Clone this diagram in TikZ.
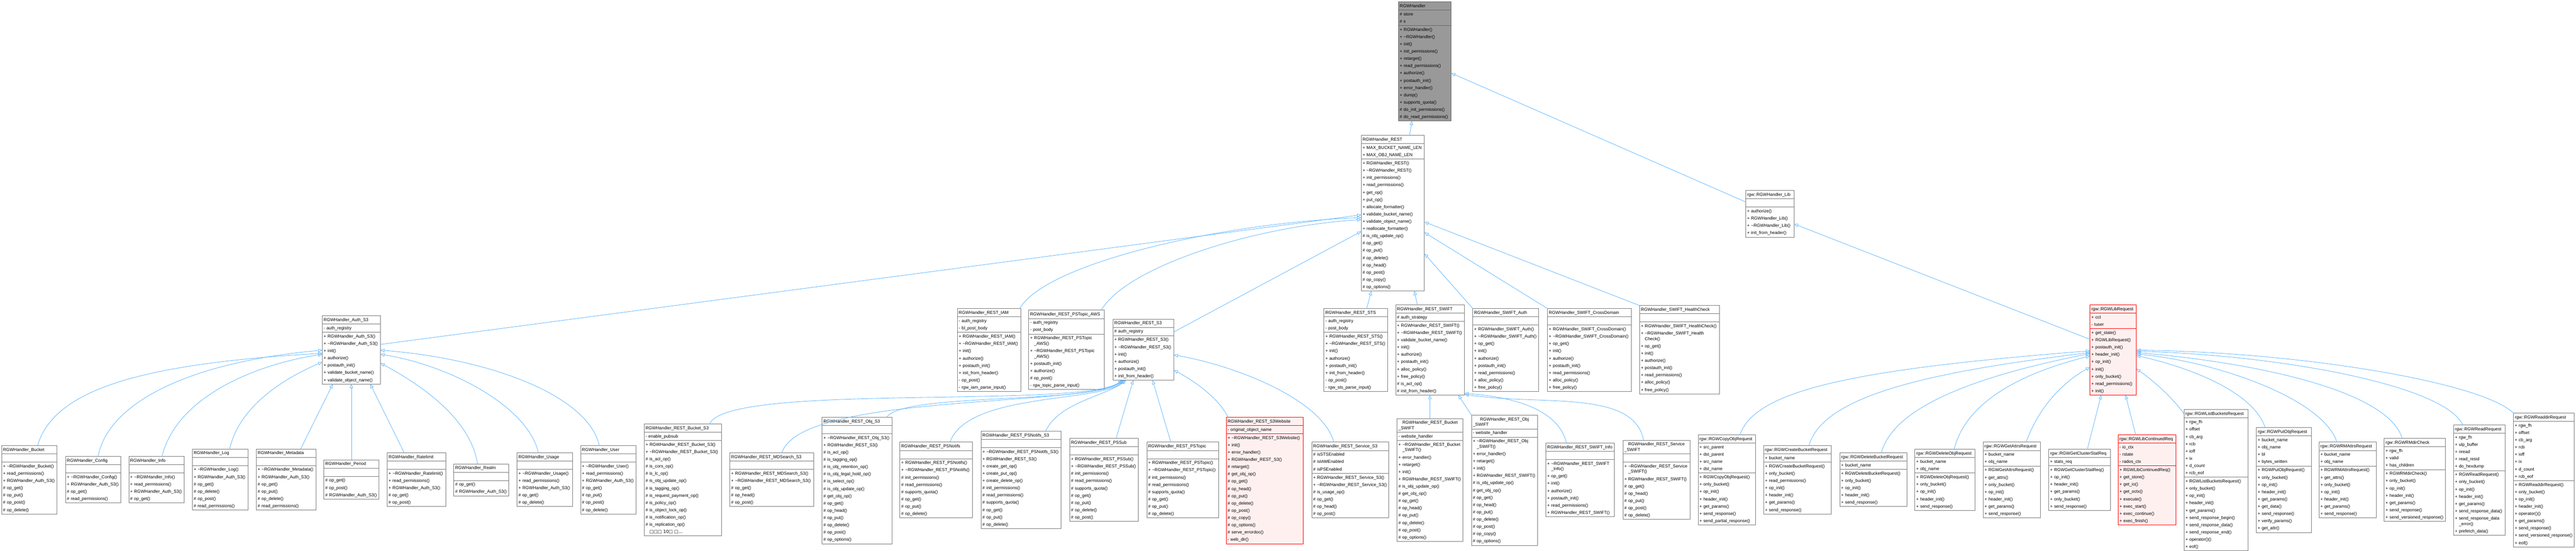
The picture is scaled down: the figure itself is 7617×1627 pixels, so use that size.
\documentclass[tikz,border=0pt]{standalone}
\usepackage{fontspec}
\setmainfont{Liberation Sans}
\newfontfamily\tofufont{DejaVu Sans}
\usetikzlibrary{shapes.multipart,arrows.meta,calc}
\definecolor{edgeblue}{HTML}{63B8FF}
\definecolor{boxline}{HTML}{7A7A7A}
\definecolor{hgray}{HTML}{999999}
\definecolor{hgrayline}{HTML}{666666}
\definecolor{redfill}{HTML}{FFF0F0}
\newcommand\tld{\textasciitilde}
\newcommand\rs{\rule[-3.2pt]{0pt}{10.75pt}}
\newcommand\ind{\hphantom{+~}}
\newcommand\cl{\\[-2.75pt]\ind}
\newcommand\hl{\\[-2.75pt]}
\tikzset{
  uml/.style={rectangle split, rectangle split parts=3, draw=boxline, line width=0.7pt,
    fill=white, inner xsep=2pt, inner ysep=0.375pt, outer sep=0pt, anchor=north west,
    align=left, font={\fontsize{6.4}{10.75}\selectfont\hyphenpenalty=10000 \exhyphenpenalty=10000 }},
  redbox/.style={draw=red, fill=redfill},
  graybox/.style={draw=hgrayline, fill=hgray},
  inh/.style={draw=edgeblue, line width=0.65pt, -{Triangle[open,length=6pt,width=5pt]}}
}
\newcommand\umlc[8][]{\node[uml,#1,text width={#5*0.5pt-4pt}] (#2) at (#3,#4) {\centering\rs #6\rs\nodepart{two}\rs #7\rs\nodepart{three}\rs #8\rs};}
\catcode`\_=12
\begin{document}
\begin{tikzpicture}[x=0.5pt,y=-0.5pt]
\useasboundingbox (0,0) rectangle (7617,1627);
% top
\umlc[graybox]{H}{4135}{5}{156}{RGWHandler}{\#~store\\\#~s}{+~RGWHandler()\\+~\tld RGWHandler()\\+~init()\\+~init_permissions()\\+~retarget()\\+~read_permissions()\\+~authorize()\\+~postauth_init()\\+~error_handler()\\+~dump()\\+~supports_quota()\\\#~do_init_permissions()\\\#~do_read_permissions()}
\umlc{REST}{4025}{400}{187}{RGWHandler_REST}{+~MAX_BUCKET_NAME_LEN\\+~MAX_OBJ_NAME_LEN}{+~RGWHandler_REST()\\+~\tld RGWHandler_REST()\\+~init_permissions()\\+~read_permissions()\\+~get_op()\\+~put_op()\\+~allocate_formatter()\\+~validate_bucket_name()\\+~validate_object_name()\\+~reallocate_formatter()\\\#~is_obj_update_op()\\\#~op_get()\\\#~op_put()\\\#~op_delete()\\\#~op_head()\\\#~op_post()\\\#~op_copy()\\\#~op_options()}
\umlc{Lib}{5162}{563}{143}{rgw::RGWHandler_Lib}{}{+~authorize()\\+~RGWHandler_Lib()\\+~\tld RGWHandler_Lib()\\+~init_from_header()}
% middle row
\umlc{AuthS3}{953}{933}{172}{RGWHandler_Auth_S3}{-~auth_registry}{+~RGWHandler_Auth_S3()\\+~\tld RGWHandler_Auth_S3()\\+~init()\\+~authorize()\\+~postauth_init()\\+~validate_bucket_name()\\+~validate_object_name()}
\umlc{IAM}{2831}{912}{187}{RGWHandler_REST_IAM}{-~auth_registry\\-~bl_post_body}{+~RGWHandler_REST_IAM()\\+~\tld RGWHandler_REST_IAM()\\+~init()\\+~authorize()\\+~postauth_init()\\+~init_from_header()\\-~op_post()\\-~rgw_iam_parse_input()}
\umlc{PSTopicAWS}{3042}{917}{224}{RGWHandler_REST_PSTopic_AWS}{-~auth_registry\\-~post_body}{+~RGWHandler_REST_PSTopic\cl _AWS()\\+~\tld RGWHandler_REST_PSTopic\cl _AWS()\\+~postauth_init()\\+~authorize()\\\#~op_post()\\-~rgw_topic_parse_input()}
\umlc{RESTS3}{3291}{943}{180}{RGWHandler_REST_S3}{\#~auth_registry}{+~RGWHandler_REST_S3()\\+~\tld RGWHandler_REST_S3()\\+~init()\\+~authorize()\\+~postauth_init()\\+~init_from_header()}
\umlc{STS}{3915}{912}{188}{RGWHandler_REST_STS}{-~auth_registry\\-~post_body}{+~RGWHandler_REST_STS()\\+~\tld RGWHandler_REST_STS()\\+~init()\\+~authorize()\\+~postauth_init()\\+~init_from_header()\\-~op_post()\\-~rgw_sts_parse_input()}
\umlc{SWIFT}{4127}{901}{203}{RGWHandler_REST_SWIFT}{\#~auth_strategy}{+~RGWHandler_REST_SWIFT()\\+~\tld RGWHandler_REST_SWIFT()\\+~validate_bucket_name()\\+~init()\\+~authorize()\\+~postauth_init()\\+~alloc_policy()\\+~free_policy()\\\#~is_acl_op()\\\#~init_from_header()}
\umlc{SWIFTAuth}{4355}{912}{195}{RGWHandler_SWIFT_Auth}{}{+~RGWHandler_SWIFT_Auth()\\+~\tld RGWHandler_SWIFT_Auth()\\+~op_get()\\+~init()\\+~authorize()\\+~postauth_init()\\+~read_permissions()\\+~alloc_policy()\\+~free_policy()}
\umlc{CrossDomain}{4576}{912}{247}{RGWHandler_SWIFT_CrossDomain}{}{+~RGWHandler_SWIFT_CrossDomain()\\+~\tld RGWHandler_SWIFT_CrossDomain()\\+~op_get()\\+~init()\\+~authorize()\\+~postauth_init()\\+~read_permissions()\\+~alloc_policy()\\+~free_policy()}
\umlc{HealthCheck}{4848}{903}{236}{RGWHandler_SWIFT_HealthCheck}{}{+~RGWHandler_SWIFT_HealthCheck()\\+~\tld RGWHandler_SWIFT_Health\cl Check()\\+~op_get()\\+~init()\\+~authorize()\\+~postauth_init()\\+~read_permissions()\\+~alloc_policy()\\+~free_policy()}
\umlc[redbox]{LibReq}{6180}{901}{137}{rgw::RGWLibRequest}{+~cct\\-~tuser}{+~get_state()\\+~RGWLibRequest()\\+~postauth_init()\\+~header_init()\\+~op_init()\\+~init()\\+~only_bucket()\\+~read_permissions()\\+~init()}
% bottom row
\umlc{Bucket}{5}{1317}{164}{RGWHandler_Bucket}{}{+~\tld RGWHandler_Bucket()\\+~read_permissions()\\+~RGWHandler_Auth_S3()\\\#~op_get()\\\#~op_put()\\\#~op_post()\\\#~op_delete()}
\umlc{Config}{194}{1349}{163}{RGWHandler_Config}{}{+~\tld RGWHandler_Config()\\+~RGWHandler_Auth_S3()\\\#~op_get()\\\#~read_permissions()}
\umlc{Info}{381}{1349}{164}{RGWHandler_Info}{}{+~\tld RGWHandler_Info()\\+~read_permissions()\\+~RGWHandler_Auth_S3()\\\#~op_get()}
\umlc{Log}{569}{1327}{164}{RGWHandler_Log}{}{+~\tld RGWHandler_Log()\\+~RGWHandler_Auth_S3()\\\#~op_get()\\\#~op_delete()\\\#~op_post()\\\#~read_permissions()}
\umlc{Metadata}{758}{1327}{176}{RGWHandler_Metadata}{}{+~\tld RGWHandler_Metadata()\\+~RGWHandler_Auth_S3()\\\#~op_get()\\\#~op_put()\\\#~op_delete()\\\#~read_permissions()}
\umlc{Period}{958}{1359}{163}{RGWHandler_Period}{}{\#~op_get()\\\#~op_post()\\\#~RGWHandler_Auth_S3()}
\umlc{Ratelimit}{1145}{1338}{173}{RGWHandler_Ratelimit}{}{+~\tld RGWHandler_Ratelimit()\\+~read_permissions()\\+~RGWHandler_Auth_S3()\\\#~op_get()\\\#~op_post()}
\umlc{Realm}{1342}{1371}{163}{RGWHandler_Realm}{}{\#~op_get()\\\#~RGWHandler_Auth_S3()}
\umlc{Usage}{1529}{1338}{164}{RGWHandler_Usage}{}{+~\tld RGWHandler_Usage()\\+~read_permissions()\\+~RGWHandler_Auth_S3()\\\#~op_get()\\\#~op_delete()}
\umlc{User}{1717}{1317}{164}{RGWHandler_User}{}{+~\tld RGWHandler_User()\\+~read_permissions()\\+~RGWHandler_Auth_S3()\\\#~op_get()\\\#~op_put()\\\#~op_post()\\\#~op_delete()}
\umlc{BucketS3}{1905}{1253}{228}{RGWHandler_REST_Bucket_S3}{-~enable_pubsub}{+~RGWHandler_REST_Bucket_S3()\\+~\tld RGWHandler_REST_Bucket_S3()\\\#~is_acl_op()\\\#~is_cors_op()\\\#~is_lc_op()\\\#~is_obj_update_op()\\\#~is_tagging_op()\\\#~is_request_payment_op()\\\#~is_policy_op()\\\#~is_object_lock_op()\\\#~is_notification_op()\\\#~is_replication_op()\\\ind{\tofufont □□□ 10□ □...}}
\umlc{MDSearch}{2158}{1338}{248}{RGWHandler_REST_MDSearch_S3}{}{+~RGWHandler_REST_MDSearch_S3()\\+~\tld RGWHandler_REST_MDSearch_S3()\\\#~op_get()\\\#~op_head()\\\#~op_post()}
\umlc{ObjS3}{2431}{1233}{206}{RGWHandler_REST_Obj_S3}{}{+~\tld RGWHandler_REST_Obj_S3()\\+~RGWHandler_REST_S3()\\\#~is_acl_op()\\\#~is_tagging_op()\\\#~is_obj_retention_op()\\\#~is_obj_legal_hold_op()\\\#~is_select_op()\\\#~is_obj_update_op()\\\#~get_obj_op()\\\#~op_get()\\\#~op_head()\\\#~op_put()\\\#~op_delete()\\\#~op_post()\\\#~op_options()}
\umlc{PSNotifs}{2661}{1307}{215}{RGWHandler_REST_PSNotifs}{}{+~RGWHandler_REST_PSNotifs()\\+~\tld RGWHandler_REST_PSNotifs()\\\#~init_permissions()\\\#~read_permissions()\\\#~supports_quota()\\\#~op_get()\\\#~op_put()\\\#~op_delete()}
\umlc{PSNotifsS3}{2901}{1274}{237}{RGWHandler_REST_PSNotifs_S3}{}{+~\tld RGWHandler_REST_PSNotifs_S3()\\+~RGWHandler_REST_S3()\\+~create_get_op()\\+~create_put_op()\\+~create_delete_op()\\\#~init_permissions()\\\#~read_permissions()\\\#~supports_quota()\\\#~op_get()\\\#~op_put()\\\#~op_delete()}
\umlc{PSSub}{3163}{1296}{203}{RGWHandler_REST_PSSub}{}{+~RGWHandler_REST_PSSub()\\+~\tld RGWHandler_REST_PSSub()\\\#~init_permissions()\\\#~read_permissions()\\\#~supports_quota()\\\#~op_get()\\\#~op_put()\\\#~op_delete()\\\#~op_post()}
\umlc{PSTopic}{3391}{1307}{212}{RGWHandler_REST_PSTopic}{}{+~RGWHandler_REST_PSTopic()\\+~\tld RGWHandler_REST_PSTopic()\\\#~init_permissions()\\\#~read_permissions()\\\#~supports_quota()\\\#~op_get()\\\#~op_put()\\\#~op_delete()}
\umlc[redbox]{S3Website}{3626}{1233}{228}{RGWHandler_REST_S3Website}{-~original_object_name}{+~\tld RGWHandler_REST_S3Website()\\+~init()\\+~error_handler()\\+~RGWHandler_REST_S3()\\\#~retarget()\\\#~get_obj_op()\\\#~op_get()\\\#~op_head()\\\#~op_put()\\\#~op_delete()\\\#~op_post()\\\#~op_copy()\\\#~op_options()\\\#~serve_errordoc()\\-~web_dir()}
\umlc{ServiceS3}{3879}{1307}{227}{RGWHandler_REST_Service_S3}{\#~isSTSEnabled\\\#~isIAMEnabled\\\#~isPSEnabled}{+~RGWHandler_REST_Service_S3()\\+~\tld RGWHandler_REST_Service_S3()\\\#~is_usage_op()\\\#~op_get()\\\#~op_head()\\\#~op_post()}
\umlc{BucketSWIFT}{4131}{1237}{195}{RGWHandler_REST_Bucket\hl _SWIFT}{-~website_handler}{+~\tld RGWHandler_REST_Bucket\cl _SWIFT()\\+~error_handler()\\+~retarget()\\+~init()\\+~RGWHandler_REST_SWIFT()\\\#~is_obj_update_op()\\\#~get_obj_op()\\\#~op_get()\\\#~op_head()\\\#~op_put()\\\#~op_delete()\\\#~op_post()\\\#~op_options()}
\umlc{ObjSWIFT}{4351}{1227}{195}{RGWHandler_REST_Obj\hl _SWIFT}{-~website_handler}{+~\tld RGWHandler_REST_Obj\cl _SWIFT()\\+~error_handler()\\+~retarget()\\+~init()\\+~RGWHandler_REST_SWIFT()\\\#~is_obj_update_op()\\\#~get_obj_op()\\\#~op_get()\\\#~op_head()\\\#~op_put()\\\#~op_delete()\\\#~op_post()\\\#~op_copy()\\\#~op_options()}
\umlc{SWIFTInfo}{4571}{1309}{203}{RGWHandler_REST_SWIFT_Info}{}{+~\tld RGWHandler_REST_SWIFT\cl _Info()\\+~op_get()\\+~init()\\+~authorize()\\+~postauth_init()\\+~read_permissions()\\+~RGWHandler_REST_SWIFT()}
\umlc{ServiceSWIFT}{4799}{1301}{198}{RGWHandler_REST_Service\hl _SWIFT}{}{+~\tld RGWHandler_REST_Service\cl _SWIFT()\\+~RGWHandler_REST_SWIFT()\\\#~op_get()\\\#~op_head()\\\#~op_put()\\\#~op_post()\\\#~op_delete()}
\umlc{CopyObj}{5021}{1285}{170}{rgw::RGWCopyObjRequest}{+~src_parent\\+~dst_parent\\+~src_name\\+~dst_name}{+~RGWCopyObjRequest()\\+~only_bucket()\\+~op_init()\\+~header_init()\\+~get_params()\\+~send_response()\\+~send_partial_response()}
\umlc{CreateBucket}{5215}{1317}{200}{rgw::RGWCreateBucketRequest}{+~bucket_name}{+~RGWCreateBucketRequest()\\+~only_bucket()\\+~read_permissions()\\+~op_init()\\+~header_init()\\+~get_params()\\+~send_response()}
\umlc{DeleteBucket}{5440}{1338}{199}{rgw::RGWDeleteBucketRequest}{+~bucket_name}{+~RGWDeleteBucketRequest()\\+~only_bucket()\\+~op_init()\\+~header_init()\\+~send_response()}
\umlc{DeleteObj}{5662}{1328}{178}{rgw::RGWDeleteObjRequest}{+~bucket_name\\+~obj_name}{+~RGWDeleteObjRequest()\\+~only_bucket()\\+~op_init()\\+~header_init()\\+~send_response()}
\umlc{GetAttrs}{5864}{1307}{169}{rgw::RGWGetAttrsRequest}{+~bucket_name\\+~obj_name}{+~RGWGetAttrsRequest()\\+~get_attrs()\\+~only_bucket()\\+~op_init()\\+~header_init()\\+~get_params()\\+~send_response()}
\umlc{GetClusterStat}{6058}{1328}{182}{rgw::RGWGetClusterStatReq}{+~stats_req}{+~RGWGetClusterStatReq()\\+~op_init()\\+~header_init()\\+~get_params()\\+~only_bucket()\\+~send_response()}
\umlc[redbox]{LibCont}{6263}{1285}{171}{rgw::RGWLibContinuedReq}{-~io_ctx\\-~rstate\\-~rados_ctx}{+~RGWLibContinuedReq()\\+~get_store()\\+~get_io()\\+~get_octx()\\+~execute()\\+~exec_start()\\+~exec_continue()\\+~exec_finish()}
\umlc{ListBuckets}{6458}{1211}{189}{rgw::RGWListBucketsRequest}{+~rgw_fh\\+~offset\\+~cb_arg\\+~rcb\\+~ioff\\+~ix\\+~d_count\\+~rcb_eof}{+~RGWListBucketsRequest()\\+~only_bucket()\\+~op_init()\\+~header_init()\\+~get_params()\\+~send_response_begin()\\+~send_response_data()\\+~send_response_end()\\+~operator()()\\+~eof()}
\umlc{PutObj}{6672}{1264}{162}{rgw::RGWPutObjRequest}{+~bucket_name\\+~obj_name\\+~bl\\+~bytes_written}{+~RGWPutObjRequest()\\+~only_bucket()\\+~op_init()\\+~header_init()\\+~get_params()\\+~get_data()\\+~send_response()\\+~verify_params()\\+~get_attr()}
\umlc{RMAttrs}{6857}{1307}{169}{rgw::RGWRMAttrsRequest}{+~bucket_name\\+~obj_name}{+~RGWRMAttrsRequest()\\+~get_attrs()\\+~only_bucket()\\+~op_init()\\+~header_init()\\+~get_params()\\+~send_response()}
\umlc{RMdirCheck}{7050}{1296}{180}{rgw::RGWRMdirCheck}{+~rgw_fh\\+~valid\\+~has_children}{+~RGWRMdirCheck()\\+~only_bucket()\\+~op_init()\\+~header_init()\\+~get_params()\\+~send_response()\\+~send_versioned_response()}
\umlc{ReadReq}{7255}{1256}{152}{rgw::RGWReadRequest}{+~rgw_fh\\+~ulp_buffer\\+~nread\\+~read_resid\\+~do_hexdump}{+~RGWReadRequest()\\+~only_bucket()\\+~op_init()\\+~header_init()\\+~get_params()\\+~send_response_data()\\+~send_response_data\cl _error()\\+~prefetch_data()}
\umlc{Readdir}{7432}{1221}{179}{rgw::RGWReaddirRequest}{+~rgw_fh\\+~offset\\+~cb_arg\\+~rcb\\+~ioff\\+~ix\\+~d_count\\+~rcb_eof}{+~RGWReaddirRequest()\\+~only_bucket()\\+~op_init()\\+~header_init()\\+~operator()()\\+~get_params()\\+~send_response()\\+~send_versioned_response()\\+~eof()}
% edges: to RGWHandler
\draw[inh] ($(REST.north west)+(143,0)$) -- ($(H.south west)+(40,0)$);
\draw[inh] ($(Lib.north west)+(0,34)$) -- ($(H.north east)+(0,211)$);
\draw[inh] ($(LibReq.north west)+(0,102)$) -- ($(Lib.north east)+(0,99)$);
% to REST
\draw[inh] ($(AuthS3.north east)+(0,85)$) -- ($(REST.north west)+(0,235)$);
\draw[inh] ($(IAM.north west)+(184,0)$) .. controls (3090,780) and (3600,660) .. ($(REST.north west)+(0,243)$);
\draw[inh] ($(PSTopicAWS.north west)+(214,0)$) .. controls (3330,790) and (3700,670) .. ($(REST.north west)+(0,249)$);
\draw[inh] ($(RESTS3.north east)+(0,38)$) -- ($(REST.north west)+(0,284)$);
\draw[inh] ($(STS.north west)+(126,0)$) -- ($(REST.south west)+(30,0)$);
\draw[inh] ($(SWIFT.north west)+(64,0)$) -- ($(REST.south west)+(157,0)$);
\draw[inh] (SWIFTAuth.north west) -- ($(REST.north east)+(0,350)$);
\draw[inh] (CrossDomain.north west) -- ($(REST.north east)+(0,287)$);
\draw[inh] (HealthCheck.north west) -- ($(REST.north east)+(0,256)$);
% to Auth_S3
\draw[inh] ($(Bucket.north west)+(106,0)$) .. controls (160,1150) and (420,1075) .. ($(AuthS3.north west)+(0,111)$);
\draw[inh] ($(Config.north west)+(96,0)$) .. controls (320,1190) and (560,1070) .. ($(AuthS3.north west)+(0,102)$);
\draw[inh] ($(Info.north west)+(98,0)$) .. controls (520,1180) and (740,1080) .. ($(AuthS3.north west)+(0,114)$);
\draw[inh] ($(Log.north west)+(110,0)$) .. controls (710,1190) and (860,1110) .. ($(AuthS3.north west)+(0,137)$);
\draw[inh] ($(Metadata.north west)+(131,0)$) -- ($(AuthS3.south west)+(31,0)$);
\draw[inh] ($(Period.north west)+(81,0)$) -- ($(AuthS3.south west)+(86,0)$);
\draw[inh] ($(Ratelimit.north west)+(50,0)$) -- ($(AuthS3.south west)+(142,0)$);
\draw[inh] ($(Realm.north west)+(70,0)$) .. controls (1390,1230) and (1230,1130) .. ($(AuthS3.north east)+(0,140)$);
\draw[inh] ($(Usage.north west)+(63,0)$) .. controls (1560,1200) and (1330,1080) .. ($(AuthS3.north east)+(0,114)$);
\draw[inh] ($(User.north west)+(55,0)$) .. controls (1740,1170) and (1450,1060) .. ($(AuthS3.north east)+(0,102)$);
% to REST_S3
\draw[inh] ($(BucketS3.north west)+(193,0)$) .. controls (2150,1130) and (3200,1210) .. ($(RESTS3.south west)+(27,0)$);
\draw[inh] ($(MDSearch.north west)+(154,0)$) .. controls (2370,1160) and (3210,1205) .. ($(RESTS3.south west)+(30,0)$);
\draw[inh] ($(ObjS3.north west)+(191,0)$) .. controls (2670,1160) and (3230,1195) .. ($(RESTS3.south west)+(33,0)$);
\draw[inh] ($(PSNotifs.north west)+(148,0)$) .. controls (2860,1160) and (3250,1190) .. ($(RESTS3.south west)+(36,0)$);
\draw[inh] ($(PSNotifsS3.north west)+(191,0)$) .. controls (3130,1190) and (3270,1170) .. ($(RESTS3.south west)+(39,0)$);
\draw[inh] ($(PSSub.north west)+(137,0)$) -- ($(RESTS3.south west)+(60,0)$);
\draw[inh] ($(PSTopic.north west)+(71,0)$) -- ($(RESTS3.south west)+(117,0)$);
\draw[inh] ($(S3Website.north west)+(5,0)$) .. controls (3600,1170) and (3520,1120) .. ($(RESTS3.north east)+(0,151)$);
\draw[inh] ($(ServiceS3.north west)+(65,0)$) .. controls (3910,1180) and (3650,1080) .. ($(RESTS3.north east)+(0,106)$);
% to REST_SWIFT
\draw[inh] ($(BucketSWIFT.north west)+(97,0)$) -- ($(SWIFT.south west)+(101,0)$);
\draw[inh] (ObjSWIFT.north west) -- ($(SWIFT.south west)+(185,0)$);
\draw[inh] ($(SWIFTInfo.north west)+(61,0)$) .. controls (4610,1220) and (4500,1175) .. ($(SWIFT.south east)+(0,-5)$);
\draw[inh] ($(ServiceSWIFT.north west)+(61,0)$) .. controls (4830,1150) and (4560,1200) .. ($(SWIFT.south east)+(0,-2)$);
% to RGWLibRequest
\draw[inh] ($(CopyObj.north west)+(124,0)$) .. controls (5190,1150) and (5500,1090) .. ($(LibReq.north west)+(0,136)$);
\draw[inh] ($(CreateBucket.north west)+(134,0)$) .. controls (5390,1170) and (5700,1100) .. ($(LibReq.north west)+(0,141)$);
\draw[inh] ($(DeleteBucket.north west)+(123,0)$) .. controls (5600,1200) and (5850,1110) .. ($(LibReq.north west)+(0,144)$);
\draw[inh] ($(DeleteObj.north west)+(116,0)$) .. controls (5810,1200) and (5950,1110) .. ($(LibReq.north west)+(0,151)$);
\draw[inh] ($(GetAttrs.north west)+(127,0)$) .. controls (6030,1200) and (6100,1130) .. ($(LibReq.north west)+(0,184)$);
\draw[inh] ($(GetClusterStat.north west)+(114,0)$) -- ($(LibReq.south west)+(33,0)$);
\draw[inh] ($(LibCont.north west)+(52,0)$) -- ($(LibReq.south west)+(105,0)$);
\draw[inh] ($(ListBuckets.north west)+(0,12)$) .. controls (6420,1170) and (6360,1120) .. ($(LibReq.north east)+(0,189)$);
\draw[inh] ($(PutObj.north west)+(26,0)$) .. controls (6660,1150) and (6450,1080) .. ($(LibReq.north east)+(0,150)$);
\draw[inh] ($(RMAttrs.north west)+(53,0)$) .. controls (6870,1180) and (6560,1070) .. ($(LibReq.north east)+(0,145)$);
\draw[inh] ($(RMdirCheck.north west)+(53,0)$) .. controls (7060,1150) and (6650,1070) .. ($(LibReq.north east)+(0,141)$);
\draw[inh] ($(ReadReq.north west)+(27,0)$) .. controls (7230,1140) and (6750,1050) .. ($(LibReq.north east)+(0,137)$);
\draw[inh] (Readdir.north west) .. controls (7340,1130) and (6800,1040) .. ($(LibReq.north east)+(0,134)$);
\end{tikzpicture}
\end{document}
